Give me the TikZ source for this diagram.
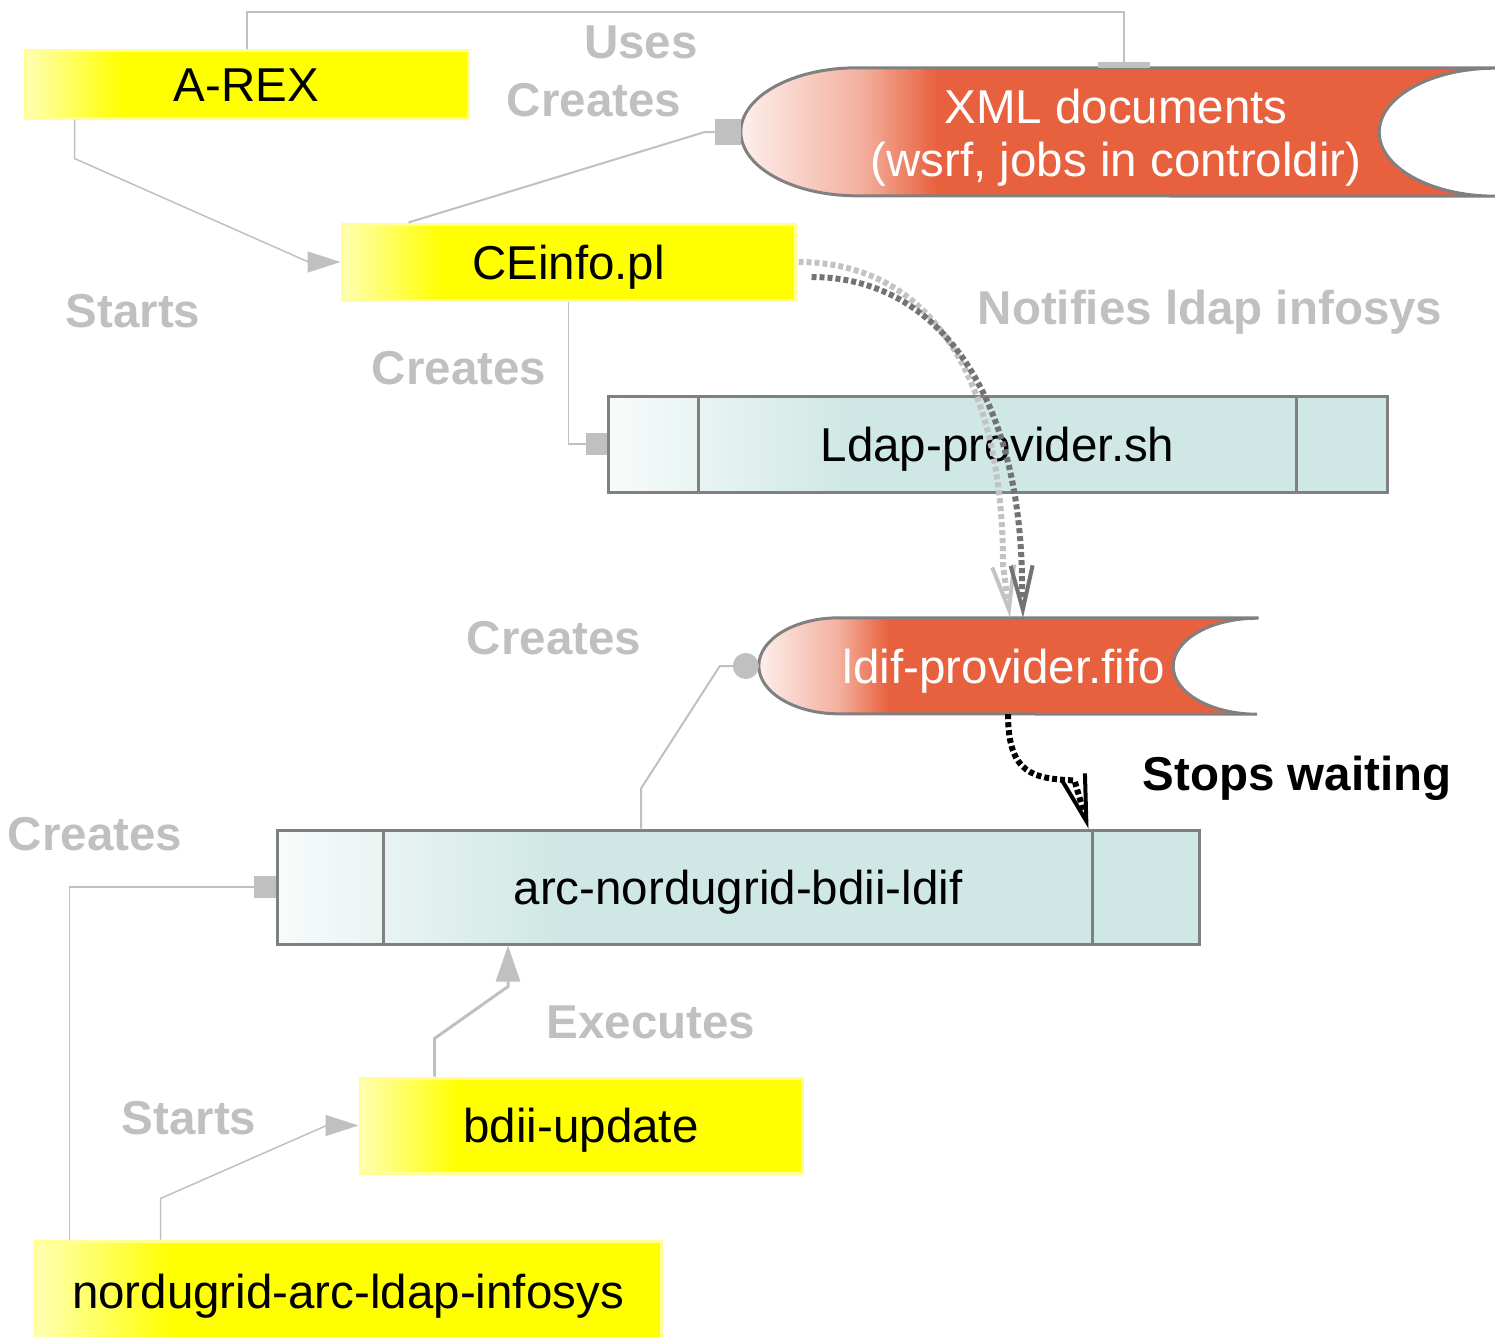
\documentclass[tikz,border=0pt]{standalone}
\usepackage{fontspec}
\setmainfont{Liberation Sans}
\usetikzlibrary{arrows.meta}

\definecolor{procyellow}{RGB}{255,255,0}
\definecolor{procedge}{RGB}{255,255,150}
\definecolor{scriptteal}{RGB}{208,232,229}
\definecolor{docorange}{RGB}{232,97,62}
\definecolor{edgegray}{RGB}{128,128,128}
\definecolor{linkgray}{RGB}{192,192,192}
\definecolor{notelight}{RGB}{195,195,195}
\definecolor{notedark}{RGB}{115,115,115}

\pgfdeclarehorizontalshading{yellowfade}{100bp}{color(0bp)=(procyellow!30!white); color(25bp)=(procyellow!30!white); color(36bp)=(procyellow); color(100bp)=(procyellow)}
\pgfdeclarehorizontalshading{tealfade}{100bp}{color(0bp)=(scriptteal!15!white); color(25bp)=(scriptteal!15!white); color(40bp)=(scriptteal); color(100bp)=(scriptteal)}
\pgfdeclarehorizontalshading{orangefade}{100bp}{color(0bp)=(docorange!10!white); color(25bp)=(docorange!10!white); color(33bp)=(docorange!50!white); color(38bp)=(docorange); color(100bp)=(docorange)}

\begin{document}
\begin{tikzpicture}[x=1pt, y=-1pt,
    bigfont/.style={font=\fontsize{47.5}{53}\selectfont},
    process/.style={bigfont, shade, shading=yellowfade, draw=procedge, line width=3pt, inner sep=0pt, text height=34pt, text depth=0pt},
    script/.style={bigfont, shade, shading=tealfade, draw=edgegray, line width=3pt, inner sep=0pt, text height=34pt, text depth=0pt},
    docbox/.style={inner sep=0pt},
    doctext/.style={bigfont, text=white, align=center},
    link/.style={draw=linkgray, line width=2pt},
    notify/.style={line width=6pt, dash pattern=on 5pt off 3pt, -{Straight Barb[length=44pt, width=22pt, line width=4pt]}},
    linklabel/.style={font=\fontsize{47.5}{53}\selectfont\bfseries, text=linkgray, text height=34pt, text depth=0pt},
    stoplabel/.style={font=\fontsize{47.5}{53}\selectfont\bfseries, text height=34pt, text depth=0pt}]
  \useasboundingbox (0,0) rectangle (1495,1336);
  \clip (0,0) rectangle (1495,1336);

  % processes and scripts
  \node[process, minimum width=443pt, minimum height=68pt] (arex) at (246.5,84) {A-REX};
  \node[process, minimum width=453pt, minimum height=76pt] (ceinfo) at (568.5,262) {CEinfo.pl};
  \node[process, minimum width=442pt, minimum height=95pt] (bdiiupd) at (581,1125.5) {bdii-update};
  \node[process, minimum width=626pt, minimum height=100pt] (infosys) at (348,1291) {nordugrid-arc-ldap-infosys};
  \node[script, minimum width=779pt, minimum height=96pt] (ldapprov) at (997.5,444) {Ldap-provider.sh};
  \node[script, minimum width=922pt, minimum height=114pt] (bdiildif) at (738,887) {arc-nordugrid-bdii-ldif};
  \draw[edgegray, line width=3pt] ([xshift=92pt]ldapprov.north west) -- ([xshift=92pt]ldapprov.south west);
  \draw[edgegray, line width=3pt] ([xshift=-92pt]ldapprov.north east) -- ([xshift=-92pt]ldapprov.south east);
  \draw[edgegray, line width=3pt] ([xshift=108pt]bdiildif.north west) -- ([xshift=108pt]bdiildif.south west);
  \draw[edgegray, line width=3pt] ([xshift=-108pt]bdiildif.north east) -- ([xshift=-108pt]bdiildif.south east);

  % documents
  \node[docbox, minimum width=754pt, minimum height=128pt] (xmldocs) at (1118,132) {};
  \shade[shading=orangefade, draw=edgegray, line width=3pt]
    (xmldocs.north east) -- ([xshift=116pt]xmldocs.north west)
    arc[start angle=90, end angle=270, x radius=116pt, y radius=64pt]
    -- (xmldocs.south east)
    arc[start angle=270, end angle=90, x radius=116pt, y radius=64pt] -- cycle;
  \node[doctext] (xmltext) at ([xshift=-2pt, yshift=-6pt]xmldocs.center) {XML documents\\(wsrf, jobs in controldir)};
  \node[docbox, minimum width=498pt, minimum height=96pt] (fifo) at (1008,666) {};
  \shade[shading=orangefade, draw=edgegray, line width=3pt]
    (fifo.north east) -- ([xshift=80pt]fifo.north west)
    arc[start angle=90, end angle=270, x radius=80pt, y radius=48pt]
    -- (fifo.south east)
    arc[start angle=270, end angle=90, x radius=84pt, y radius=48pt] -- cycle;
  \node[doctext, text height=34pt, text depth=0pt] (fifotext) at ([xshift=-4pt]fifo.center) {ldif-provider.fifo};

  % links
  \draw[link, -{Square[length=6pt, width=52pt]}] (arex.north) -- (arex.north |- 0,12) -| ([xshift=6pt]xmldocs.north);
  \draw[link, -{Square[length=26pt, width=26pt]}] ([xshift=-160pt]ceinfo.north) -- ([xshift=-36pt]xmldocs.west) -- (xmldocs.west);
  \draw[link, line width=1.5pt, -{Triangle[length=33pt, width=21pt]}] ([xshift=51pt]arex.south west) -- ++(0pt,-39pt) -- ([xshift=-32pt]ceinfo.west) -- (ceinfo.west);
  \draw[link, line width=1.5pt, -{Square[length=21pt, width=22pt]}] (ceinfo.south) |- (ldapprov.west);
  \draw[link, -{Circle[length=26pt]}] ([xshift=-97pt]bdiildif.north) -- ++(0pt,40pt) -- ([xshift=-39pt]fifo.west) -- (fifo.west);
  \draw[link, line width=1.5pt, -{Square[length=22pt, width=22pt]}] ([xshift=36pt]infosys.north west) |- (bdiildif.west);
  \draw[link, line width=1.5pt, -{Triangle[length=33pt, width=21pt]}] ([xshift=127pt]infosys.north west) -- ++(0pt,41pt) -- ([xshift=-32pt]bdiiupd.west) -- (bdiiupd.west);
  \draw[link, line width=3pt, -{Triangle[length=36pt, width=24pt]}] ([xshift=76pt]bdiiupd.north west) -- ++(0pt,38pt) -- ([xshift=-230pt, yshift=-41pt]bdiildif.south) -- ([xshift=-230pt]bdiildif.south);

  % notifications
  \draw[notify, notelight] ([xshift=2pt]ceinfo.east) .. controls +(133pt,0pt) and +(0pt,185pt) .. ([xshift=-5pt, yshift=53pt]fifo.north) -- ([xshift=2pt]fifo.north);
  \draw[notify, notedark] ([xshift=15pt, yshift=-15pt]ceinfo.east) .. controls +(130pt,0pt) and +(-2pt,180pt) .. ([xshift=14pt, yshift=38pt]fifo.north) -- ([xshift=15pt]fifo.north);
  \draw[line width=6pt, dash pattern=on 5pt off 3pt, -{Straight Barb[length=46pt, width=24pt, line width=4pt]}] (fifo.south) .. controls +(0pt,-61pt) and +(-40pt,2pt) .. ([xshift=-126pt, yshift=48pt]bdiildif.north east) -- ([xshift=-112pt]bdiildif.north east);

  % labels
  \node[linklabel] (lbluses) at (641,41) {Uses};
  \node[linklabel] (lblcreatesxml) at (594,99) {Creates};
  \node[linklabel] (lblstartsce) at (133,310) {Starts};
  \node[linklabel] (lblnotify) at (1210,307) {Notifies ldap infosys};
  \node[linklabel] (lblcreatesldap) at (459,367) {Creates};
  \node[linklabel] (lblcreatesfifo) at (554,637) {Creates};
  \node[stoplabel] (lblstops) at (1297,773) {Stops waiting};
  \node[linklabel] (lblcreatesldif) at (95,833) {Creates};
  \node[linklabel] (lblexec) at (651,1021) {Executes};
  \node[linklabel] (lblstartsupd) at (189,1117) {Starts};
\end{tikzpicture}
\end{document}
